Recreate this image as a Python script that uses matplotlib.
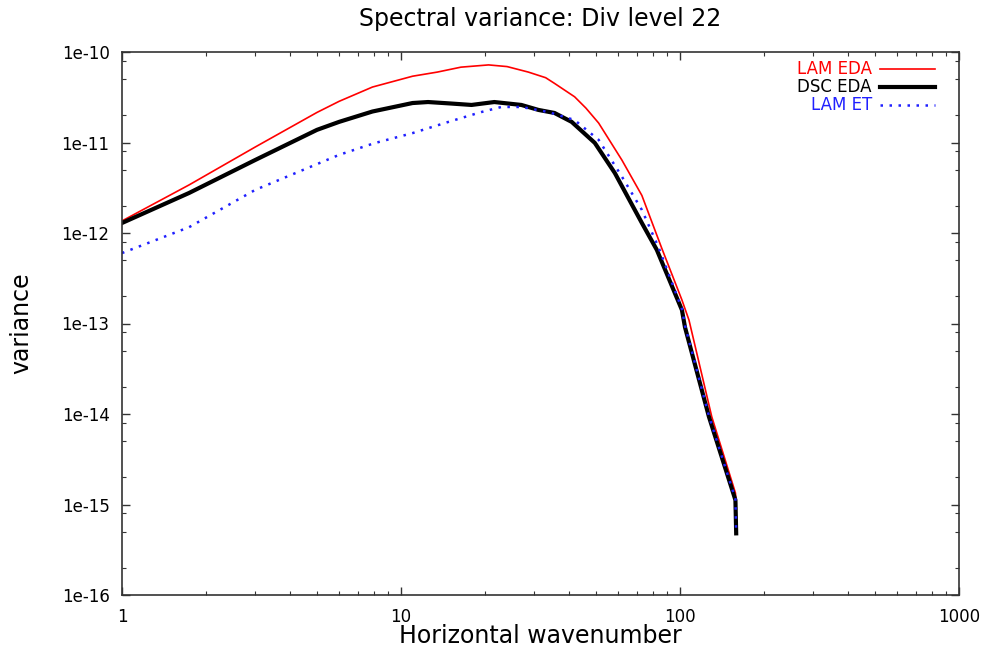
import matplotlib
matplotlib.use('Agg')
import matplotlib.pyplot as plt
from matplotlib.lines import Line2D
import numpy as np

plt.rcParams['font.family'] = ['DejaVu Sans']

# spectra: wavenumber, variance
k_lam_eda = [1, 1.74, 3, 5, 6, 7.9, 11, 13.5, 16.4, 20.6, 24, 28.6, 33, 35.5,
             41.9, 46, 51.1, 61.9, 73, 86, 101.6, 107.7, 130, 158, 159]
v_lam_eda = [1.36e-12, 3.4e-12, 8.9e-12, 2.15e-11, 2.85e-11, 4.1e-11, 5.4e-11,
             6.0e-11, 6.8e-11, 7.2e-11, 6.9e-11, 6.0e-11, 5.2e-11, 4.5e-11,
             3.2e-11, 2.4e-11, 1.64e-11, 6.4e-12, 2.6e-12, 6.8e-13,
             1.82e-13, 1.09e-13, 9.3e-15, 1.34e-15, 1.05e-15]

k_dsc_eda = [1, 1.74, 3, 5, 6, 7.9, 11, 12.5, 15, 17.9, 21.6, 27, 31.1, 35.5,
             40.9, 49.5, 58.4, 73, 82.6, 101.6, 104.2, 127, 158, 159]
v_dsc_eda = [1.29e-12, 2.77e-12, 6.4e-12, 1.38e-11, 1.69e-11, 2.2e-11, 2.73e-11,
             2.8e-11, 2.7e-11, 2.6e-11, 2.8e-11, 2.6e-11, 2.29e-11, 2.12e-11,
             1.69e-11, 9.9e-12, 4.6e-12, 1.29e-12, 6.5e-13, 1.41e-13, 9.1e-14,
             9.3e-15, 1.12e-15, 4.8e-16]

k_lam_et = [1, 1.74, 3, 6, 8, 11, 14.8, 19.4, 22.9, 27, 33.8, 41.9, 51.1, 61.9,
            73, 84, 101.6, 104.2, 127, 158, 159]
v_lam_et = [6.0e-13, 1.16e-12, 2.99e-12, 7.3e-12, 9.8e-12, 1.27e-11, 1.69e-11,
            2.17e-11, 2.47e-11, 2.47e-11, 2.17e-11, 1.77e-11, 1.07e-11, 4.2e-12,
            1.8e-12, 6.8e-13, 1.45e-13, 9.5e-14, 9.5e-15, 1.15e-15, 4.8e-16]

series = [("LAM EDA", k_lam_eda, v_lam_eda, '#ff0000', 1.2, '-'),
          ("DSC EDA", k_dsc_eda, v_dsc_eda, '#000000', 3.0, '-'),
          ("LAM ET", k_lam_et, v_lam_et, '#2020ff', 1.8, (0, (1.0, 2.6)))]

xticks = [1, 10, 100, 1000]
xticklabels = ['1', '10', '100', '1000']
yticks = [1e-16, 1e-15, 1e-14, 1e-13, 1e-12, 1e-11, 1e-10]
yticklabels = ['1e-16', '1e-15', '1e-14', '1e-13', '1e-12', '1e-11', '1e-10']

fig = plt.figure(figsize=(9.85, 6.52), dpi=100)
ax = fig.add_axes([122/985, 1 - 595/652, 837/985, 543/652])

for name, k, v, col, lw, ls in series:
    ax.plot(k, v, color=col, lw=lw, ls=ls, solid_joinstyle='round')

ax.set_xscale('log')
ax.set_yscale('log')
ax.set_xlim(1, 1000)
ax.set_ylim(1e-16, 1e-10)
ax.set_xticks(xticks)
ax.set_xticklabels(xticklabels)
ax.set_yticks(yticks)
ax.set_yticklabels(yticklabels)
ax.xaxis.set_minor_locator(matplotlib.ticker.LogLocator(base=10, subs=np.arange(2, 10)))
ax.yaxis.set_minor_locator(matplotlib.ticker.LogLocator(base=10, subs=(2., 5., 8.)))
ax.xaxis.set_minor_formatter(matplotlib.ticker.NullFormatter())
ax.yaxis.set_minor_formatter(matplotlib.ticker.NullFormatter())
ax.tick_params(which='both', direction='in', top=True, right=True,
               labelsize=12, pad=9, color='#333333')
ax.tick_params(which='major', length=6, width=1)
ax.tick_params(which='minor', length=3, width=0.8)
for sp in ax.spines.values():
    sp.set_linewidth(1.2)
    sp.set_color('#333333')

ax.set_title('Spectral variance: Div level 22', fontsize=17, pad=19)
ax.set_xlabel('Horizontal wavenumber', fontsize=17, labelpad=-1)
ax.set_ylabel('variance', fontsize=17, labelpad=20)

# key in the upper right corner, text right-aligned before the line sample
rows = [0.968, 0.936, 0.903]
for (name, k, v, col, lw, ls), yy in zip(series, rows):
    ax.text(0.896, yy, name, transform=ax.transAxes, ha='right', va='center',
            fontsize=12, color=col)
    ax.add_line(Line2D([0.906, 0.971], [yy, yy], transform=ax.transAxes,
                       color=col, lw=lw, ls=ls))

fig.savefig('out.png', dpi=100)
